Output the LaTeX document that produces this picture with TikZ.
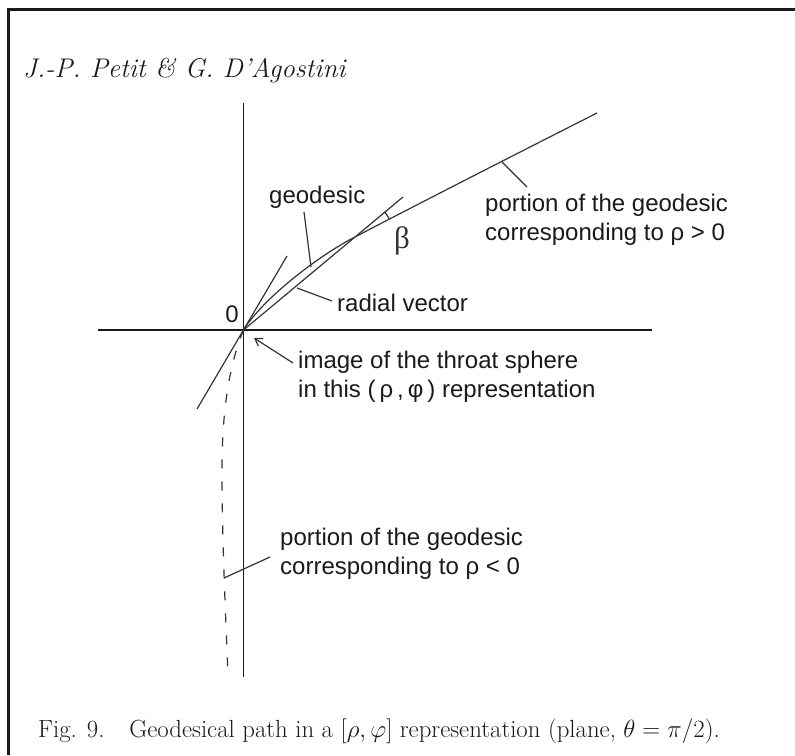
\documentclass[tikz,border=0pt]{standalone}
\usepackage{fontspec}
\usepackage{tikz}
\usetikzlibrary{arrows.meta, calc}
\newfontfamily\figfont{Liberation Sans}
\newfontfamily\symfont{Liberation Serif}
\definecolor{myink}{HTML}{1A1A1A}
\definecolor{mygray}{HTML}{333333}
\tikzset{
axisline/.style={
draw=myink,
line width=1.2pt
},
geoline/.style={
draw=mygray,
line width=1.2pt
},
leader/.style={
draw=mygray,
line width=1.2pt
},
frameline/.style={
draw=myink,
line width=3pt
},
figlabel/.style={
font=\figfont\fontsize{24}{28.5}\selectfont,
text=myink,
anchor=base west,
inner sep=0pt,
align=left
},
betalabel/.style={
font=\symfont\fontsize{31}{32}\selectfont,
text=mygray,
anchor=base,
inner sep=0pt
},
serifLabel/.style={
font=\fontsize{24.8}{27}\selectfont,
text=myink,
anchor=base west,
inner sep=0pt
}
}

\begin{document}
\begin{tikzpicture}[x=1pt,y=-1pt]
\useasboundingbox (0,0) rectangle (795,755);

% frame of the page
\draw[frameline] (795,9) -- (8,9) -- (8,755);

\coordinate (O) at (243.5,330);
\coordinate (xL) at (98,330);
\coordinate (xR) at (652,330);
\coordinate (yT) at (243.5,103);
\coordinate (yB) at (243.5,677);
\draw[axisline] (xL) -- (xR);
\draw[axisline] (yT) -- (yB);

\coordinate (P) at (353,238);
\coordinate (geoEnd) at (597,113);
\coordinate (radEnd) at (403,197);
\coordinate (tanLo) at (197,409);
\coordinate (tanHi) at (287,256);
\coordinate (negMid) at (222,470);
\coordinate (negEnd) at (228,677);

\draw[geoline] (O) .. controls (262,300) and (315,258) .. (P)
  .. controls (420,203) and (520,152) .. (geoEnd);
\draw[geoline] (O) -- (radEnd);
\draw[geoline] ($(P)+(-28:41)$) arc[start angle=-28, end angle=-39.7, radius=41];
\draw[geoline] (tanLo) -- (tanHi);
\draw[geoline, dash pattern=on 9pt off 13pt] (O) .. controls (232,358) and (222,400) .. (negMid)
  .. controls (222,545) and (226,620) .. (negEnd);

\coordinate (geoLead) at (311,267);
\coordinate (geoLeadTop) at (304,212);
\coordinate (radLead) at (297,288);
\coordinate (radLeadEnd) at (332,301);
\coordinate (posLead) at (502,162);
\coordinate (posLeadEnd) at (527,187);
\coordinate (negLead) at (224,578);
\coordinate (negLeadEnd) at (270,557);
\coordinate (throatTail) at (293,363);
\coordinate (throatHead) at (254,338);

\draw[leader] (geoLead) -- (geoLeadTop);
\draw[leader] (radLead) -- (radLeadEnd);
\draw[leader] (posLead) -- (posLeadEnd);
\draw[leader] (negLead) -- (negLeadEnd);
\draw[leader, -{Straight Barb[length=7pt,width=9pt]}] (throatTail) -- (throatHead);

\node[figlabel, anchor=base] (lblOrigin) at (232,322) {0};
\node[figlabel] (lblGeodesic) at (269,203) {geodesic};
\node[figlabel] (lblRadial) at (337,311) {radial vector};
\node[betalabel] (lblBeta) at (402,248) {β};
% two-line labels sit on the baseline of their last line
\node[figlabel] (lblPos) at (485,240) {portion of the geodesic\\corresponding to ρ > 0};
\node[figlabel] (lblThroat) at (298,397) {image of the throat sphere\\in this (\,ρ\,,\,φ\,) representation};
\node[figlabel] (lblNeg) at (280,574) {portion of the geodesic\\corresponding to ρ < 0};

\node[serifLabel, font=\itshape\fontsize{27}{30}\selectfont] (lblAuthors) at (23,77) {J.-P. Petit \& G. D'Agostini};
\node[serifLabel] (lblCaption) at (38,737)
  {Fig. 9.\quad Geodesical path in a $[\rho,\varphi]$ representation (plane, $\theta=\pi/2$).};

\end{tikzpicture}
\end{document}
